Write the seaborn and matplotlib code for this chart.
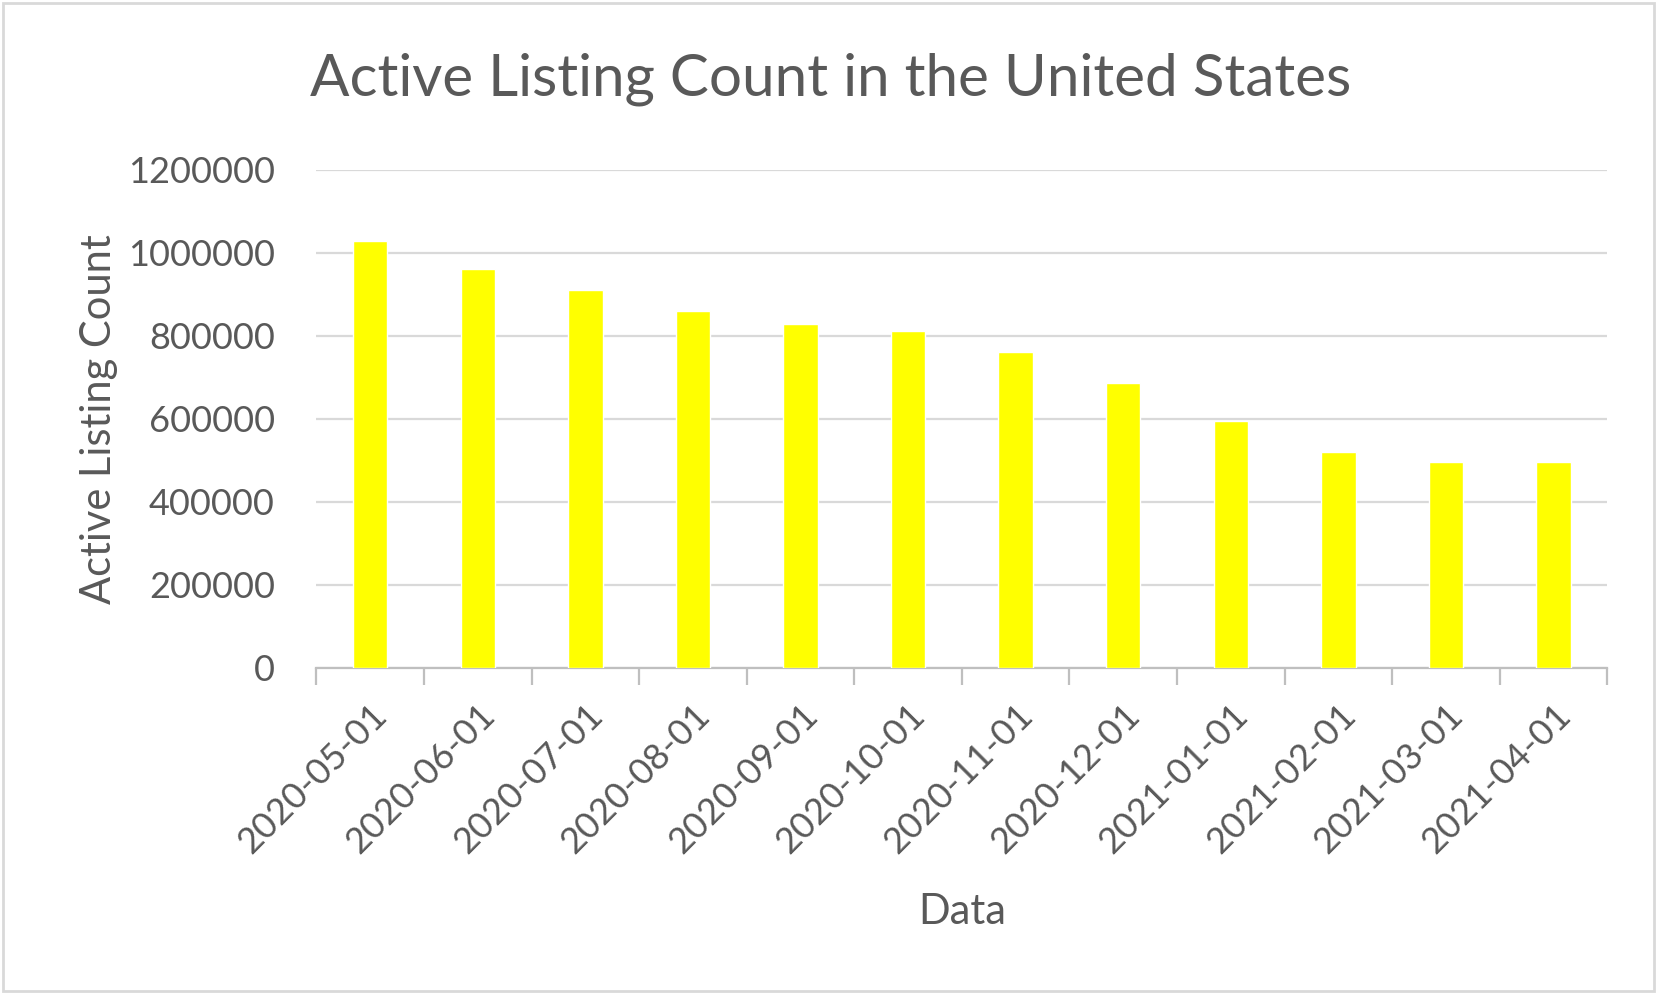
import matplotlib
matplotlib.use("Agg")
import matplotlib.pyplot as plt
import seaborn as sns
import pandas as pd
from matplotlib.patches import Rectangle

# values
dates = ['2020-05-01', '2020-06-01', '2020-07-01', '2020-08-01', '2020-09-01', '2020-10-01',
         '2020-11-01', '2020-12-01', '2021-01-01', '2021-02-01', '2021-03-01', '2021-04-01']
listings = [1029000, 962000, 911000, 861000, 828000, 811000,
            761000, 686000, 596000, 521000, 497000, 497000]
y_ticks = [0, 200000, 400000, 600000, 800000, 1000000, 1200000]

text_color = '#595959'
grid_color = '#d9d9d9'

sns.set_theme(style='white')
plt.rcParams['font.family'] = ['Lato', 'DejaVu Sans']

df = pd.DataFrame({'date': dates, 'count': listings})

fig = plt.figure(figsize=(16.57, 9.94), dpi=100)
ax = fig.add_axes([0.191, 0.328, 0.779, 0.501])

sns.barplot(data=df, x='date', y='count', color='#FFFF00', width=0.32,
            saturation=1, ax=ax, zorder=3)

ax.set_xlim(-0.5, len(dates) - 0.5)
ax.set_ylim(0, 1200000)
ax.set_yticks(y_ticks)
ax.set_yticklabels([str(v) for v in y_ticks])
ax.yaxis.grid(True, color=grid_color, linewidth=1.6, zorder=0)
ax.xaxis.grid(False)

for s in ['top', 'right', 'left']:
    ax.spines[s].set_visible(False)
ax.spines['bottom'].set_color('#bfbfbf')
ax.spines['bottom'].set_linewidth(1.6)

# category boundary ticks like the spreadsheet chart
ax.set_xticks([i - 0.5 for i in range(len(dates) + 1)], minor=True)
ax.tick_params(axis='x', which='minor', bottom=True, length=12, width=1.6,
               color='#bfbfbf', direction='out')
ax.tick_params(axis='x', which='major', length=0, pad=22)
ax.tick_params(axis='y', length=0, pad=30)
ax.tick_params(axis='both', labelsize=26, labelcolor=text_color)

plt.setp(ax.get_xticklabels(), rotation=45, ha='right', rotation_mode='anchor')

ax.set_xlabel('Data', fontsize=30, color=text_color, labelpad=24)
ax.set_ylabel('Active Listing Count', fontsize=30, color=text_color, labelpad=7)

fig.text(0.501, 0.920, 'Active Listing Count in the United States', ha='center', va='center',
         fontsize=42, color=text_color)

fig.patches.append(Rectangle((0.002, 0.003), 0.996, 0.994, transform=fig.transFigure,
                             fill=False, edgecolor='#d9d9d9', linewidth=2))

fig.savefig('out.png', dpi=100)
